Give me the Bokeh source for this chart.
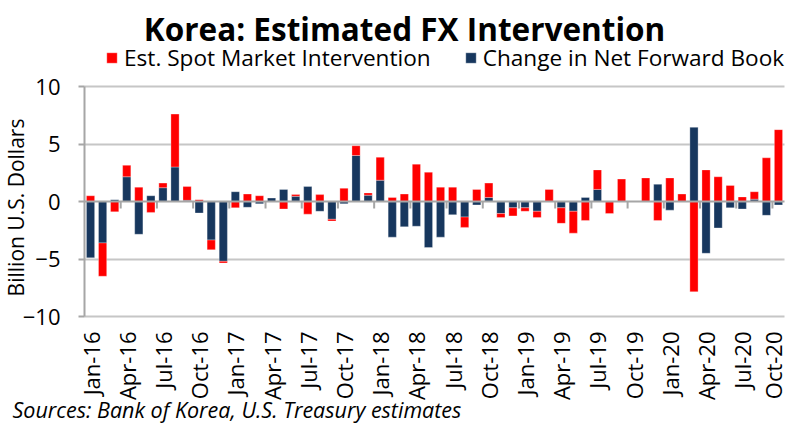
import math
import numpy as np
from bokeh.plotting import figure
from bokeh.models import Range1d, FixedTicker, Label, Legend, LegendItem, Grid
from bokeh.embed import file_html
from bokeh.resources import INLINE

# Monthly data, Jan-16 .. Oct-20 (billion U.S. dollars)
spot = [0.5, -2.9, -0.9, 1.0, 1.25, -0.95, 0.4, 4.6, 1.2, 0.15, -0.85, -0.15,
        -0.55, 0.65, 0.5, -0.05, -0.65, 0.15, -1.1, 0.6, -0.15, 1.15, 0.85, 0.2,
        2.0, 0.35, 0.65, 3.25, 2.55, 1.25, 1.25, -0.9, 1.05, 1.25, -0.35, -0.7,
        -0.3, -0.55, 1.05, -1.35, -1.9, -1.65, 1.7, -1.05, 1.95, 0.05, 2.05, -1.65,
        2.05, 0.65, -7.85, 2.75, 2.15, 1.4, 0.4, 0.65, 3.8, 6.25]
fwd = [-4.9, -3.6, 0.15, 2.15, -2.85, 0.5, 1.2, 3.0, 0.1, -1.0, -3.35, -5.2,
       0.85, -0.5, -0.2, 0.3, 1.05, 0.45, 1.3, -0.85, -1.55, -0.2, 4.0, 0.55,
       1.85, -3.1, -2.2, -2.15, -4.0, -3.1, -1.15, -1.35, -0.3, 0.35, -1.05, -0.55,
       -0.55, -0.85, 0.0, -0.55, -0.85, 0.35, 1.05, 0.0, 0.0, 0.0, 0.0, 1.5,
       -0.75, 0.0, 6.45, -4.5, -2.3, -0.55, -0.65, 0.2, -1.2, -0.3]
tick_labels = ["Jan-16", "Apr-16", "Jul-16", "Oct-16", "Jan-17", "Apr-17", "Jul-17",
               "Oct-17", "Jan-18", "Apr-18", "Jul-18", "Oct-18", "Jan-19", "Apr-19",
               "Jul-19", "Oct-19", "Jan-20", "Apr-20", "Jul-20", "Oct-20"]
y_ticks = [-10, -5, 0, 5, 10]

n = len(spot)
x = np.arange(n)
s = np.array(spot)
f = np.array(fwd)

# stack: forward book first (closest to zero), spot on top; +/- stacked separately
pos_base = np.where(f > 0, f, 0.0)
neg_base = np.where(f < 0, f, 0.0)
s_bottom = np.where(s >= 0, pos_base, neg_base)
s_top = s_bottom + s

FONT = "Open Sans"
GRAY = "#A6A6A6"

# canvas geometry (pixels): plotting area inside a 787x424 canvas
W, H = 787, 424
PL, PR, PT, PB = 84, 784, 86, 316
ymin, ymax = min(y_ticks), max(y_ticks)
px_x = (PR - PL) / n
px_y = (PB - PT) / (ymax - ymin)
x0, x1 = -0.5, n - 0.5
xr = Range1d(x0 - PL / px_x, x1 + (W - PR) / px_x)
yr = Range1d(ymin - (H - PB) / px_y, ymax + PT / px_y)

p = figure(width=W, height=H, x_range=xr, y_range=yr, output_backend="svg",
           toolbar_location=None, min_border=0)
p.outline_line_color = None
p.title.visible = False

# grid lines limited to the plotting area
p.xgrid.visible = False
p.ygrid.visible = False
gt = [t for t in y_ticks if t != 0]
if "cross_bounds" in Grid.properties():
    p.add_layout(Grid(dimension=1, ticker=FixedTicker(ticks=gt), cross_bounds=(x0, x1),
                      grid_line_color="#C6C6C6", grid_line_width=2))
else:
    p.segment(x0=[x0] * len(gt), y0=gt, x1=[x1] * len(gt), y1=gt,
              line_color="#C6C6C6", line_width=2)

r_fwd = p.vbar(x=x, width=0.68, bottom=0, top=f, fill_color="#17375E",
               line_color="white", line_alpha=0.3, line_width=1)
r_spot = p.vbar(x=x, width=0.68, bottom=s_bottom, top=s_top, fill_color="#FF0000",
                line_color="white", line_alpha=0.3, line_width=1)

# zero line with its tick marks
p.segment(x0=[x0], y0=[0], x1=[x1], y1=[0], line_color=GRAY, line_width=2)
tk = np.arange(2.5, n - 1, 3)
p.segment(x0=tk, y0=0, x1=tk, y1=-0.6, line_color=GRAY, line_width=2)

# axes pinned to the plotting area
p.xaxis.fixed_location = ymin
p.xaxis.ticker = FixedTicker(ticks=list(range(0, n, 3)))
p.xaxis.major_label_overrides = {i * 3: lab for i, lab in enumerate(tick_labels)}
p.xaxis.major_label_orientation = math.pi / 2
p.xaxis.axis_line_color = None
p.xaxis.major_tick_line_color = None
p.xaxis.major_tick_out = 0
p.xaxis.major_tick_in = 0
p.xaxis.minor_tick_line_color = None
p.xaxis.major_label_standoff = 15
p.xaxis.major_label_text_font = FONT
p.xaxis.major_label_text_font_size = "22px"
p.xaxis.major_label_text_color = "black"

p.yaxis.fixed_location = x0
p.yaxis.bounds = (ymin, ymax)
p.yaxis.ticker = FixedTicker(ticks=y_ticks)
p.yaxis.axis_line_color = GRAY
p.yaxis.axis_line_width = 2
p.yaxis.major_tick_out = 6
p.yaxis.major_tick_in = 0
p.yaxis.major_tick_line_color = GRAY
p.yaxis.major_tick_line_width = 2
p.yaxis.minor_tick_line_color = None
p.yaxis.major_label_standoff = 18
p.yaxis.major_label_text_font = FONT
p.yaxis.major_label_text_font_size = "22px"
p.yaxis.major_label_text_color = "black"

# legend
legend = Legend(items=[LegendItem(label="Est. Spot Market Intervention", renderers=[r_spot]),
                       LegendItem(label="Change in Net Forward Book", renderers=[r_fwd])],
                orientation="horizontal", location=(105, H - 73),
                border_line_color=None, background_fill_alpha=0,
                glyph_width=13, glyph_height=13, label_standoff=6, spacing=33,
                label_height=26, padding=0, margin=0, label_text_font=FONT,
                label_text_font_size="22.6px", label_text_color="black")
p.add_layout(legend, "center")

# texts
p.add_layout(Label(x=404, y=H - 28, x_units="screen", y_units="screen",
                   text="Korea: Estimated FX Intervention", text_align="center",
                   text_baseline="alphabetic", text_font=FONT, text_font_style="bold",
                   text_font_size="31.5px", text_color="black"))
p.add_layout(Label(x=15, y=H - 207, x_units="screen", y_units="screen", angle=math.pi / 2,
                   text="Billion U.S. Dollars", text_align="center", text_baseline="middle",
                   text_font=FONT, text_font_size="21px", text_color="black"))
p.add_layout(Label(x=12, y=H - 409, x_units="screen", y_units="screen",
                   text="Sources: Bank of Korea, U.S. Treasury estimates", text_align="left",
                   text_baseline="alphabetic", text_font=FONT, text_font_style="italic",
                   text_font_size="21.5px", text_color="black"))

open("out.html", "w").write(file_html(p, INLINE))
